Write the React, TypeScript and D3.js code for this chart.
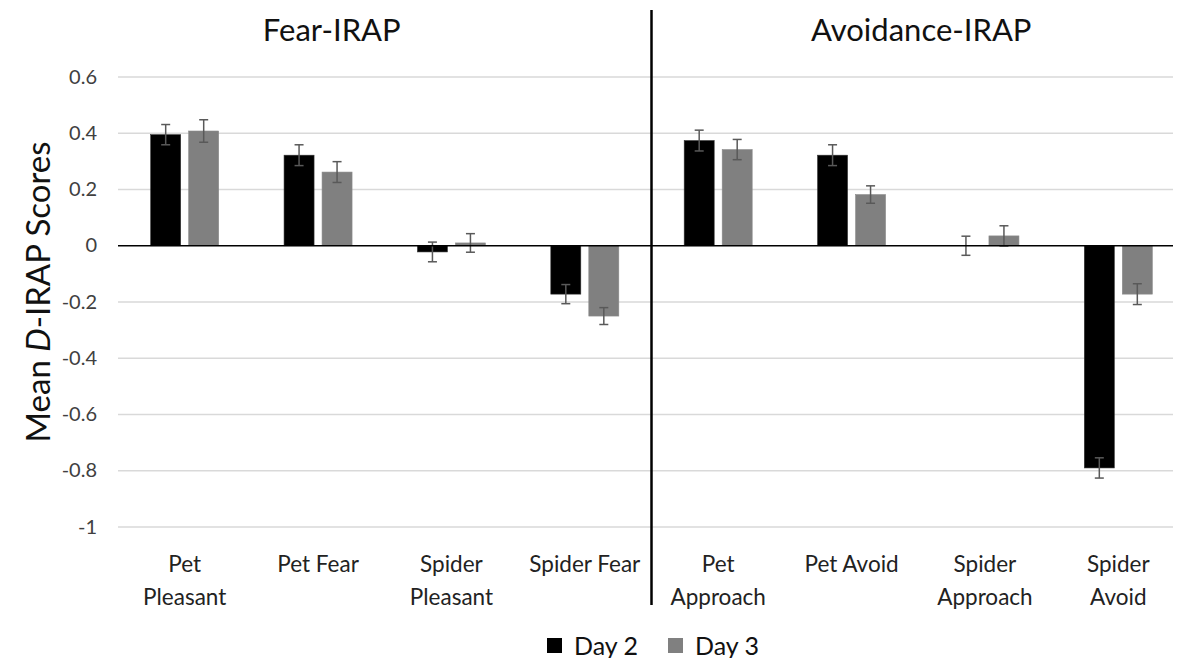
import * as d3 from "d3";
import { useEffect, useRef } from "react";

type Datum = { cat: string; day2: number; day3: number; err2: number; err3: number };

const categories = [
  "Pet Pleasant",
  "Pet Fear",
  "Spider Pleasant",
  "Spider Fear",
  "Pet Approach",
  "Pet Avoid",
  "Spider Approach",
  "Spider Avoid",
];
const categoryLines = [
  ["Pet", "Pleasant"],
  ["Pet Fear"],
  ["Spider", "Pleasant"],
  ["Spider Fear"],
  ["Pet", "Approach"],
  ["Pet Avoid"],
  ["Spider", "Approach"],
  ["Spider", "Avoid"],
];
const day2Values = [0.395, 0.322, -0.022, -0.172, 0.374, 0.322, 0.0, -0.79];
const day3Values = [0.408, 0.262, 0.01, -0.25, 0.342, 0.182, 0.035, -0.172];
const day2Errors = [0.036, 0.037, 0.035, 0.034, 0.037, 0.037, 0.034, 0.036];
const day3Errors = [0.04, 0.037, 0.033, 0.03, 0.036, 0.031, 0.036, 0.037];
const yTicks = [0.6, 0.4, 0.2, 0, -0.2, -0.4, -0.6, -0.8, -1];
const panelTitles = ["Fear-IRAP", "Avoidance-IRAP"];
const seriesNames = ["Day 2", "Day 3"];

const data: Datum[] = categories.map((c, i) => ({
  cat: c,
  day2: day2Values[i],
  day3: day3Values[i],
  err2: day2Errors[i],
  err3: day3Errors[i],
}));

export default function App() {
  const ref = useRef<SVGSVGElement | null>(null);

  useEffect(() => {
    if (!ref.current) return;
    const width = 1181;
    const left = 118;
    const right = 1185;
    const font = "Lato, 'Open Sans', sans-serif";

    const svg = d3.select(ref.current);
    svg.selectAll("*").remove();

    const x = d3.scaleBand().domain(categories).range([left, right]);
    const y = d3.scaleLinear().domain([-1, 0.6]).range([527, 77]);
    const barW = 30;
    const gap = 8;

    const color = d3.scaleOrdinal<string>().domain(seriesNames).range(["#000000", "#808080"]);

    // gridlines
    svg
      .append("g")
      .selectAll("line")
      .data(yTicks.filter((t) => t !== 0))
      .join("line")
      .attr("x1", left)
      .attr("x2", width)
      .attr("y1", (d) => y(d))
      .attr("y2", (d) => y(d))
      .attr("stroke", "#d9d9d9")
      .attr("stroke-width", 1.3);

    // y tick labels
    svg
      .append("g")
      .selectAll("text")
      .data(yTicks)
      .join("text")
      .attr("x", 97)
      .attr("y", (d) => y(d))
      .attr("dy", "0.33em")
      .attr("text-anchor", "end")
      .attr("font-family", font)
      .attr("font-size", 20)
      .attr("fill", "#404040")
      .text((d) => String(d));

    // bars
    const groups = svg
      .append("g")
      .selectAll("g")
      .data(data)
      .join("g")
      .attr("transform", (d) => `translate(${x(d.cat)! + x.bandwidth() / 2},0)`);

    const series = (d: Datum) => [
      { key: "Day 2", v: d.day2, e: d.err2, off: -gap / 2 - barW },
      { key: "Day 3", v: d.day3, e: d.err3, off: gap / 2 },
    ];

    groups
      .selectAll("rect")
      .data(series)
      .join("rect")
      .attr("x", (s) => s.off)
      .attr("width", barW)
      .attr("y", (s) => Math.min(y(s.v), y(0)))
      .attr("height", (s) => Math.abs(y(s.v) - y(0)))
      .attr("fill", (s) => color(s.key))
      .attr("stroke", (s) => (s.key === "Day 2" ? "#333" : "#8a8a8a"))
      .attr("stroke-width", 0.6);

    // error bars
    const eb = groups
      .selectAll("g.err")
      .data(series)
      .join("g")
      .attr("class", "err")
      .attr("stroke", "#595959")
      .attr("stroke-width", 1.5);
    eb.append("line")
      .attr("x1", (s) => s.off + barW / 2)
      .attr("x2", (s) => s.off + barW / 2)
      .attr("y1", (s) => y(s.v + s.e))
      .attr("y2", (s) => y(s.v - s.e));
    eb.selectAll("line.cap")
      .data((s) => [
        { s, v: s.v + s.e },
        { s, v: s.v - s.e },
      ])
      .join("line")
      .attr("class", "cap")
      .attr("x1", (c) => c.s.off + barW / 2 - 4.5)
      .attr("x2", (c) => c.s.off + barW / 2 + 4.5)
      .attr("y1", (c) => y(c.v))
      .attr("y2", (c) => y(c.v));

    // zero axis
    svg
      .append("line")
      .attr("x1", left)
      .attr("x2", width)
      .attr("y1", y(0))
      .attr("y2", y(0))
      .attr("stroke", "#000")
      .attr("stroke-width", 1.5);

    // divider
    const divX = x(categories[4])!;
    svg
      .append("line")
      .attr("x1", divX)
      .attr("x2", divX)
      .attr("y1", 10)
      .attr("y2", 605)
      .attr("stroke", "#000")
      .attr("stroke-width", 2.5);

    // panel titles (centred over each half of the figure)
    const titleX = [(0 + divX) / 2 + 6, (divX + right) / 2 + 3];
    svg
      .append("g")
      .selectAll("text")
      .data(panelTitles)
      .join("text")
      .attr("x", (_, i) => titleX[i])
      .attr("y", 41)
      .attr("text-anchor", "middle")
      .attr("font-family", font)
      .attr("font-size", 31)
      .attr("fill", "#111")
      .text((d) => d);

    // category labels
    svg
      .append("g")
      .selectAll("text")
      .data(categories)
      .join("text")
      .attr("x", (d) => x(d)! + x.bandwidth() / 2)
      .attr("y", 572)
      .attr("text-anchor", "middle")
      .attr("font-family", font)
      .attr("font-size", 22.5)
      .attr("fill", "#222")
      .selectAll("tspan")
      .data((_, i) => categoryLines[i])
      .join("tspan")
      .attr("x", function () {
        return (this.parentNode as SVGTextElement).getAttribute("x");
      })
      .attr("dy", (_, j) => (j === 0 ? 0 : 33))
      .text((t) => t);

    // y axis title
    const yt = svg
      .append("text")
      .attr("transform", `translate(50,292) rotate(-90)`)
      .attr("text-anchor", "middle")
      .attr("font-family", font)
      .attr("font-size", 33)
      .attr("fill", "#111");
    yt.append("tspan").text("Mean ");
    yt.append("tspan").attr("font-style", "italic").text("D");
    yt.append("tspan").text("-IRAP Scores");

    // legend
    const legend = svg
      .append("g")
      .selectAll("g")
      .data(seriesNames)
      .join("g")
      .attr("transform", (_, i) => `translate(${547 + i * 121},638)`);
    legend
      .append("rect")
      .attr("width", 15)
      .attr("height", 15)
      .attr("fill", (d) => color(d));
    legend
      .append("text")
      .attr("x", 27)
      .attr("y", 17)
      .attr("font-family", font)
      .attr("font-size", 25)
      .attr("fill", "#111")
      .text((d) => d);
  }, []);

  return (
    <div style={{ margin: -8 }}>
      <svg ref={ref} width={1181} height={666} style={{ display: "block", background: "#fff" }}></svg>
    </div>
  );
}
